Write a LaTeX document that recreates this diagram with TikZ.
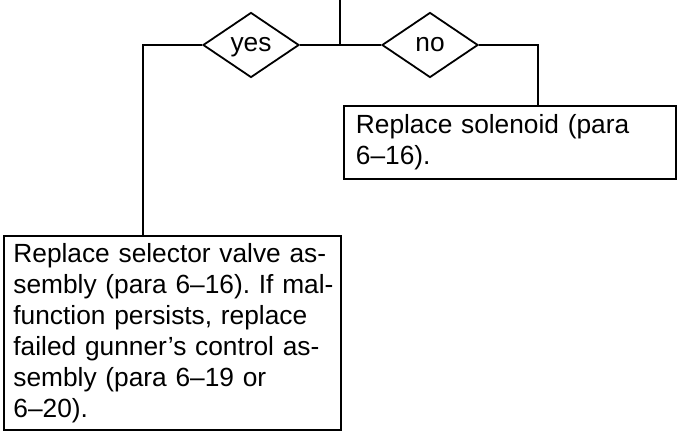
\documentclass[tikz,border=0pt]{standalone}
\usepackage{fontspec}
\setmainfont{Liberation Sans}
\usetikzlibrary{shapes.geometric}
\newcommand{\jl}[1]{\makebox[316pt][s]{#1}}
\tikzstyle{txt}=[font=\fontsize{26.3}{31}\selectfont\frenchspacing]
\tikzstyle{dm}=[txt, shape=diamond, draw, line width=1.8pt, minimum width=96pt, minimum height=65pt, inner sep=0, text height=14pt, text depth=0pt]
\tikzstyle{bx}=[txt, draw, line width=1.8pt, align=left, anchor=north west]
\tikzstyle{ln}=[line width=1.8pt]

\begin{document}
\begin{tikzpicture}[x=1pt, y=-1pt]
\useasboundingbox (0,0) rectangle (679,433);
%\draw[help lines,step=20pt] (0,0) grid (679,433);
\coordinate (top) at (340,0);
\coordinate (j) at (340,45);
\coordinate (lc) at (143,45);
\coordinate (rc) at (538,45);
\node at (251,45)[dm](yes){yes};
\node at (430,45)[dm](no){no};
\node at (343,105)[bx, inner xsep=12pt, text width=308pt, minimum height=73pt](sol){Replace solenoid (para\\6--16).};
\node at (3,235)[bx, inner xsep=9.5pt, text width=318pt, minimum height=194pt](sel){\jl{Replace selector valve as-}\\\jl{sembly (para 6--16). If mal-}\\function persists, replace\\\jl{failed gunner's control as-}\\sembly (para 6--19 or\\6--20).};
\draw[ln] (top)--(j);
\draw[ln] (j)--(yes) (j)--(no);
\draw[ln] (yes)--(lc)--(lc |- sel.north);
\draw[ln] (no)--(rc)--(rc |- sol.north);
\end{tikzpicture}
\end{document}
